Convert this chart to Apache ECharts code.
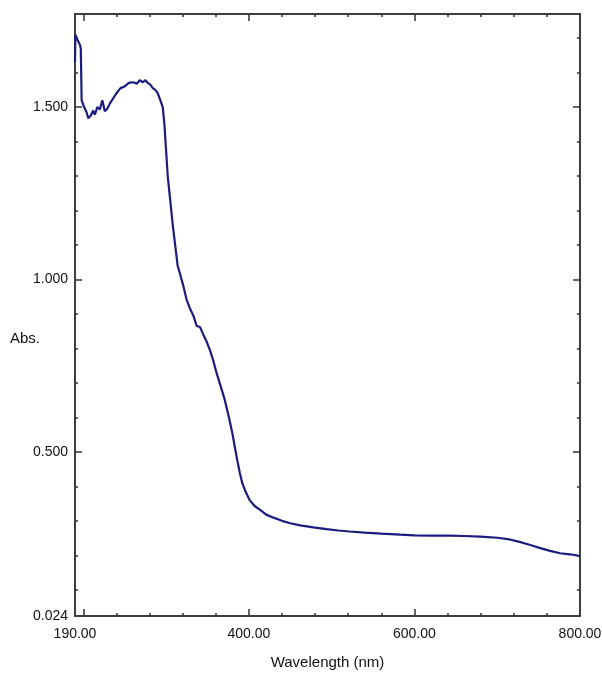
<!DOCTYPE html>
<html>
<head>
<meta charset="utf-8">
<script src="https://cdn.jsdelivr.net/npm/echarts@6/dist/echarts.min.js"></script>
<style>
  html, body { margin: 0; padding: 0; background: #fff; }
  #chart { width: 602px; height: 673px; }
</style>
</head>
<body>
<div id="chart"></div>
<script>
// wavelength (nm) and absorbance
const wavelength = [190, 190.5, 192, 194, 196, 197, 198, 201, 204, 206, 209, 212, 214, 217, 220, 223, 226, 229, 232, 236,
  240, 245, 250, 255, 260, 265, 268, 272, 275, 278, 281, 284, 287, 290, 293, 296, 298, 300, 302, 305,
  308, 311, 314, 317, 321, 325, 329, 333, 337, 341, 345, 349, 353, 357, 361, 366, 371, 376, 380, 383,
  386, 389, 392, 396, 401, 407, 414, 421, 429, 440, 450, 462, 478, 494, 508, 522, 540, 560, 583, 600,
  620, 643, 660, 680, 700, 715, 727, 740, 752, 764, 776, 788, 800];
const absorbance = [1.63, 1.71, 1.70, 1.69, 1.68, 1.67, 1.52, 1.50, 1.485, 1.468, 1.475, 1.49, 1.478, 1.50, 1.493, 1.52, 1.488, 1.495, 1.51, 1.525,
  1.54, 1.555, 1.56, 1.57, 1.572, 1.568, 1.578, 1.572, 1.578, 1.57, 1.565, 1.555, 1.55, 1.54, 1.52, 1.50, 1.45, 1.375, 1.30, 1.23,
  1.16, 1.10, 1.04, 1.015, 0.98, 0.94, 0.915, 0.895, 0.865, 0.862, 0.84, 0.82, 0.795, 0.765, 0.729, 0.69, 0.650, 0.60, 0.555, 0.515,
  0.476, 0.44, 0.41, 0.385, 0.360, 0.343, 0.331, 0.318, 0.310, 0.300, 0.293, 0.287, 0.281, 0.276, 0.272, 0.269, 0.266, 0.263, 0.260, 0.258,
  0.257, 0.257, 0.256, 0.254, 0.251, 0.246, 0.239, 0.230, 0.221, 0.213, 0.206, 0.203, 0.198];

const xLabels = [190, 400, 600, 800];
const xMajor = [200, 400, 600];
const xMinor = [240, 280, 320, 360, 440, 480, 520, 560, 640, 680, 720, 760];
const yLabels = [0.024, 0.5, 1.0, 1.5];
const yMajor = [0.5, 1.0, 1.5];
const yMinor = [0.1, 0.2, 0.3, 0.4, 0.6, 0.7, 0.8, 0.9, 1.1, 1.2, 1.3, 1.4, 1.6, 1.7];

const X_MIN = 190, X_MAX = 800, Y_MIN = 0.024, Y_MAX = 1.77;
const font = 'Liberation Sans, Arial, sans-serif';
const lineCol = '#333';

function xAxisDef(pos, ticks, len, labels) {
  return {
    type: 'value', min: X_MIN, max: X_MAX, position: pos,
    axisLine: { show: true, onZero: false, lineStyle: { color: lineCol, width: 1.5 } },
    axisTick: { show: true, inside: true, length: len, customValues: ticks, lineStyle: { color: lineCol, width: 1.5 } },
    axisLabel: labels ? {
      show: true, customValues: labels, margin: 11, color: '#111', fontFamily: font, fontSize: 14,
      formatter: v => v.toFixed(2)
    } : { show: false },
    splitLine: { show: false }
  };
}

function yAxisDef(pos, ticks, len, labels) {
  return {
    type: 'value', min: Y_MIN, max: Y_MAX, position: pos,
    axisLine: { show: true, onZero: false, lineStyle: { color: lineCol, width: 1.5 } },
    axisTick: { show: true, inside: true, length: len, customValues: ticks, lineStyle: { color: lineCol, width: 1.5 } },
    axisLabel: labels ? {
      show: true, customValues: labels, margin: 7, color: '#111', fontFamily: font, fontSize: 14,
      formatter: v => v.toFixed(3)
    } : { show: false },
    splitLine: { show: false }
  };
}

const xb = xAxisDef('bottom', xMajor, 7, xLabels);
xb.name = 'Wavelength (nm)';
xb.nameLocation = 'middle';
xb.nameGap = 39;
xb.nameTextStyle = { color: '#111', fontFamily: font, fontSize: 15 };

const chart = echarts.init(document.getElementById('chart'));
chart.setOption({
  backgroundColor: '#fff',
  animation: false,
  grid: { left: 75, right: 22, top: 14, bottom: 57, containLabel: false, outerBoundsMode: 'none' },
  xAxis: [
    xb,
    xAxisDef('bottom', xMinor, 3),
    xAxisDef('top', xMajor, 7),
    xAxisDef('top', xMinor, 3)
  ],
  yAxis: [
    yAxisDef('left', yMajor, 7, yLabels),
    yAxisDef('left', yMinor, 3),
    yAxisDef('right', yMajor, 7),
    yAxisDef('right', yMinor, 3)
  ],
  graphic: [{
    type: 'text', left: 10, top: 331,
    style: { text: 'Abs.', fill: '#111', font: '15px ' + font }
  }],
  series: [{
    type: 'line',
    xAxisIndex: 0, yAxisIndex: 0,
    data: wavelength.map((w, i) => [w, absorbance[i]]),
    showSymbol: false,
    lineStyle: { color: '#1c1c7e', width: 2.2 },
    clip: true
  }]
});
</script>
</body>
</html>
